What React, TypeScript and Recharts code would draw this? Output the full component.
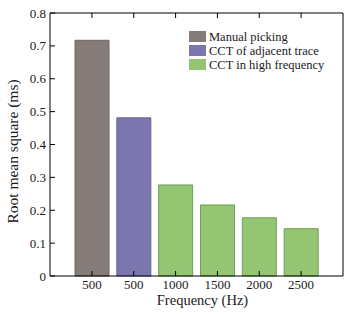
import React from 'react';
import { BarChart, Bar, XAxis, YAxis, Cell, Legend, Label } from 'recharts';

const categories = ['500', '500', '1000', '1500', '2000', '2500'];
const rmsValues = [0.717, 0.481, 0.277, 0.216, 0.177, 0.144];
const methodOfBar = [0, 1, 2, 2, 2, 2];
const methodLabels = ['Manual picking', 'CCT of adjacent trace', 'CCT in high frequency'];
const methodColors = ['#857b79', '#7b77ae', '#93c572'];
const methodStrokes = ['#6e6462', '#66629a', '#6f9f55'];
const yTicks = [0, 0.1, 0.2, 0.3, 0.4, 0.5, 0.6, 0.7, 0.8];

const data = categories.map((c, i) => ({ freq: c, value: rmsValues[i], method: methodOfBar[i] }));

const FONT = "'Liberation Serif', 'Times New Roman', serif";
const TXT = '#1a1a1a';
const TICK = 5;

const LeftTick = (props: any) => {
  const { x, y, payload } = props;
  const v = payload.value;
  return (
    <g>
      <line x1={x} x2={x + TICK} y1={y} y2={y} stroke="#000" strokeWidth={1} />
      <text x={x - 4} y={y} dy={4.5} textAnchor="end" style={{ fontFamily: FONT }} fontSize={13} fill={TXT}>
        {v === 0 ? '0' : v.toFixed(1)}
      </text>
    </g>
  );
};
const RightTick = (props: any) => {
  const { x, y } = props;
  return <line x1={x} x2={x - TICK} y1={y} y2={y} stroke="#000" strokeWidth={1} />;
};
const BottomTick = (props: any) => {
  const { x, y, payload } = props;
  return (
    <g>
      <line x1={x} x2={x} y1={y} y2={y - TICK} stroke="#000" strokeWidth={1} />
      <text x={x} y={y} dy={12.5} textAnchor="middle" style={{ fontFamily: FONT }} fontSize={13} fill={TXT}>
        {payload.value}
      </text>
    </g>
  );
};
const TopTick = (props: any) => {
  const { x, y } = props;
  return <line x1={x} x2={x} y1={y} y2={y + TICK} stroke="#000" strokeWidth={1} />;
};

const LegendContent = () => (
  <div style={{ fontFamily: FONT, fontSize: 12.5, color: TXT }}>
    {methodLabels.map((l, i) => (
      <div key={l} style={{ display: 'flex', alignItems: 'center', height: 14.2 }}>
        <span style={{ display: 'inline-block', width: 17, height: 11, background: methodColors[i], marginRight: 3 }} />
        <span style={{ lineHeight: '14px', whiteSpace: 'nowrap' }}>{l}</span>
      </div>
    ))}
  </div>
);

const YTitle = (props: any) => {
  const vb = props.viewBox;
  const cx = vb.x + 12.5;
  const cy = vb.y + vb.height / 2 + 7;
  return (
    <text x={cx} y={cy} transform={`rotate(-90 ${cx} ${cy})`} textAnchor="middle" dominantBaseline="central" style={{ fontFamily: FONT }} fontSize={15.5} fill={TXT}>
      Root mean square (ms)
    </text>
  );
};
const XTitle = (props: any) => {
  const vb = props.viewBox;
  return (
    <text x={vb.x + vb.width / 2 + 6} y={vb.y + 29} textAnchor="middle" style={{ fontFamily: FONT }} fontSize={14.5} fill={TXT}>
      Frequency (Hz)
    </text>
  );
};

export default function App() {
  return (
    <div style={{ position: 'fixed', left: 0, top: 0, width: 354, height: 316, background: '#fff' }}>
      <BarChart width={354} height={316} data={data} margin={{ top: 12, right: 10, left: 0, bottom: 0 }}>
        <XAxis
          xAxisId="bottom"
          dataKey="freq"
          orientation="bottom"
          height={40}
          padding={{ left: 21, right: 21 }}
          tickSize={0}
          tickMargin={0}
          tick={<BottomTick />}
          interval={0}
          axisLine={{ stroke: '#000', strokeWidth: 1 }}
        >
          <Label content={<XTitle />} />
        </XAxis>
        <XAxis
          xAxisId="top"
          dataKey="freq"
          orientation="top"
          height={1}
          padding={{ left: 21, right: 21 }}
          tickSize={0}
          tickMargin={0}
          tick={<TopTick />}
          interval={0}
          axisLine={{ stroke: '#000', strokeWidth: 1 }}
        />
        <YAxis
          yAxisId="left"
          orientation="left"
          width={50}
          domain={[0, 0.8]}
          ticks={yTicks}
          tickSize={0}
          tickMargin={0}
          tick={<LeftTick />}
          interval={0}
          axisLine={{ stroke: '#000', strokeWidth: 1 }}
        >
          <Label content={<YTitle />} />
        </YAxis>
        <YAxis
          yAxisId="right"
          orientation="right"
          width={1}
          domain={[0, 0.8]}
          ticks={yTicks}
          tickSize={0}
          tickMargin={0}
          tick={<RightTick />}
          interval={0}
          axisLine={{ stroke: '#000', strokeWidth: 1 }}
        />
        <Legend
          layout="vertical"
          align="center"
          verticalAlign="middle"
          content={<LegendContent />}
          wrapperStyle={{ position: 'absolute', left: 189, top: 29.5, width: 'auto', bottom: 'auto' }}
        />
        <Bar dataKey="value" xAxisId="bottom" yAxisId="left" barSize={34} isAnimationActive={false}>
          {data.map((d, i) => (
            <Cell key={i} fill={methodColors[d.method]} stroke={methodStrokes[d.method]} strokeWidth={1} />
          ))}
        </Bar>
      </BarChart>
    </div>
  );
}
